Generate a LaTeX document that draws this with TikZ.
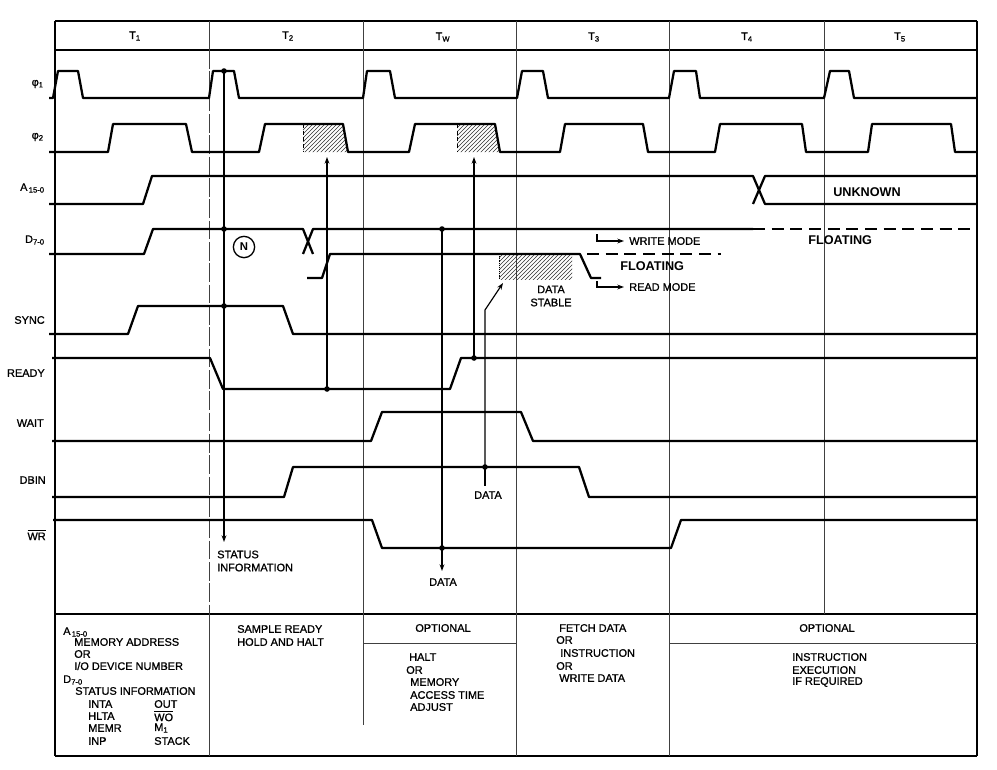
\documentclass[tikz,border=0pt]{standalone}
\usepackage{fontspec}
\setmainfont{Liberation Sans}
\newfontfamily\semifont{Liberation Sans}[FakeBold=1.0]
\usetikzlibrary{patterns,arrows.meta}
\begin{document}
\begin{tikzpicture}[x=0.75pt,y=-0.75pt,
  wave/.style={line width=1.7pt,line join=round},
  gridline/.style={line width=0.5pt,black!75},
  framel/.style={line width=1.1pt},
  conn/.style={line width=0.9pt},
  arr/.style={conn,-{Stealth[length=5pt,width=3.6pt]}},
  txt/.style={font=\semifont\fontsize{8.2}{9.8}\selectfont,inner sep=0pt},
  btxt/.style={font=\fontsize{9.5}{11}\selectfont\bfseries,inner sep=0pt},
  hatch/.style={pattern=north east lines,pattern color=black!80},
  dotp/.style={circle,fill,inner sep=0pt,minimum size=4.2pt}
]
\useasboundingbox (0,0) rectangle (997,769);

% ---------- frame and grid ----------
\draw[framel] (55,21) -- (977,21);
\draw[framel] (55,50) -- (977,50);
\draw[framel] (55,614) -- (977,614);
\draw[framel] (55,756) -- (977,756);
\draw[framel] (55,21) -- (55,756);
\draw[framel] (977,21) -- (977,756);
\draw[gridline] (209,21) -- (209,50);
\draw[gridline,dash pattern=on 14pt off 2pt] (209,50) -- (209,614);
\foreach \x in {363,516,669,824} \draw[gridline] (\x,21) -- (\x,614);
\draw[gridline] (209,614) -- (209,756);
\draw[gridline] (363,614) -- (363,725);
\draw[gridline] (516,614) -- (516,756);
\draw[gridline] (669,614) -- (669,756);
\draw[gridline] (363,643) -- (516,643);
\draw[gridline] (669,643) -- (977,643);

% ---------- header ----------
\node[txt] (h1) at (135,36) {T\textsubscript{1}};
\node[txt] (h2) at (288,36) {T\textsubscript{2}};
\node[txt] (h3) at (443,37) {T\textsubscript{W}};
\node[txt] (h4) at (594,37) {T\textsubscript{3}};
\node[txt] (h5) at (747,37) {T\textsubscript{4}};
\node[txt] (h6) at (900,37) {T\textsubscript{5}};

% ---------- signal labels ----------
\node[txt,anchor=east] (lphi1) at (44,84) {φ\textsubscript{1}};
\node[txt,anchor=east] (lphi2) at (44,137) {φ\textsubscript{2}};
\node[txt,anchor=east] (la) at (45,188) {A\textsubscript{\,15-0}};
\node[txt,anchor=east] (ld) at (45,240) {D\textsubscript{7-0}};
\node[txt,anchor=east] (lsync) at (45,320) {SYNC};
\node[txt,anchor=east] (lready) at (45,373) {READY};
\node[txt,anchor=east] (lwait) at (44,423) {WAIT};
\node[txt,anchor=east] (ldbin) at (46,480) {DBIN};
\node[txt,anchor=east] (lwr) at (46,535) {$\overline{\mbox{WR}}$};

% ---------- hatched areas ----------
\fill[hatch] (303,124) -- (343,124) -- (348,152) -- (303,152) -- cycle;
\draw[line width=0.4pt,densely dashed] (303,124) -- (303,152);
\fill[hatch] (457,124) -- (495,124) -- (500,152) -- (457,152) -- cycle;
\draw[line width=0.4pt,densely dashed] (457,124) -- (457,152);
\fill[hatch] (499,254) rectangle (572,279);
\draw[line width=0.4pt,densely dotted] (499,254) -- (499,279);

% ---------- waveforms ----------
\draw[wave] (49,98) -- (53,98) -- (58,71) -- (78,71) -- (83,98) -- (209,98) -- (213,71) -- (234,71) -- (239,98)
  -- (363,98) -- (367,71) -- (390,71) -- (395,98) -- (517,98) -- (522,71) -- (543,71) -- (548,98)
  -- (669,98) -- (674,71) -- (696,71) -- (700,98) -- (824,98) -- (830,71) -- (849,71) -- (854,98) -- (977,98);
\draw[wave] (49,152) -- (108,152) -- (113,124) -- (186,124) -- (192,152) -- (259,152) -- (265,124) -- (343,124) -- (348,152)
  -- (409,152) -- (415,124) -- (495,124) -- (500,152) -- (560,152) -- (565,124) -- (643,124) -- (648,152)
  -- (715,152) -- (720,124) -- (802,124) -- (806,152) -- (868,152) -- (872,124) -- (951,124) -- (955,152) -- (977,152);
% A15-0
\draw[wave] (49,204) -- (143,204) -- (152,176) -- (753,176) -- (765,204) -- (977,204);
\draw[wave] (753,204) -- (765,176) -- (977,176);
% D7-0
\draw[wave] (49,254) -- (144,254) -- (153,229) -- (303,229) -- (313,254);
\draw[wave] (303,254) -- (313,229) -- (753,229);
\draw[wave,dash pattern=on 9pt off 5pt] (753,229) -- (977,229);
\draw[wave] (307,278) -- (322,278) -- (330,254) -- (580,254) -- (591,278) -- (601,278);
\draw[wave,dash pattern=on 9pt off 5pt] (587,254) -- (721,254);
% SYNC
\draw[wave] (49,334) -- (128,334) -- (138,306) -- (283,306) -- (293,334) -- (977,334);
% READY
\draw[wave] (52,358) -- (210,358) -- (223,389) -- (450,389) -- (461,358) -- (977,358);
% WAIT
\draw[wave] (52,441) -- (371,441) -- (382,412) -- (521,412) -- (533,441) -- (977,441);
% DBIN
\draw[wave] (52,497) -- (284,497) -- (293,467) -- (579,467) -- (589,497) -- (977,497);
% WR
\draw[wave] (53,520) -- (372,520) -- (382,548) -- (671,548) -- (681,520) -- (977,520);

% ---------- junction dots ----------
\node[dotp] (p1) at (224,71) {};
\node[dotp] (p2) at (224,229) {};
\node[dotp] (p3) at (224,306) {};
\node[dotp] (p4) at (327,389) {};
\node[dotp] (p5) at (442,229) {};
\node[dotp] (p6) at (474,358) {};
\node[dotp] (p7) at (442,548) {};
\node[dotp] (p8) at (485,467) {};

\coordinate (e1) at (224,542);
\coordinate (e2) at (327,157);
\coordinate (e3) at (474,157);
\coordinate (e4) at (442,571);
\coordinate (k8) at (485,310);
\coordinate (e8) at (503,283);
\coordinate (t8) at (485,486);

\draw[arr] (p1.center) -- (e1);
\draw[arr] (p4.center) -- (e2);
\draw[arr] (p6.center) -- (e3);
\draw[arr] (p5.center) -- (e4);
\draw[arr] (p8.center) -- (k8) -- (e8);
\draw[conn] (p8.center) -- (t8);

% ---------- mode arrows ----------
\coordinate (w0) at (597,234);
\coordinate (w1) at (597,241);
\coordinate (w2) at (624,241);
\coordinate (r0) at (597,281);
\coordinate (r1) at (597,287);
\coordinate (r2) at (624,287);
\draw[arr] (w0) -- (w1) -- (w2);
\draw[arr] (r0) -- (r1) -- (r2);

% ---------- waveform annotations ----------
\node[draw,circle,line width=1pt,minimum size=16pt,inner sep=0pt,font=\fontsize{8.5}{10}\selectfont\bfseries] (nn) at (244,247) {N};
\node[txt,anchor=west] (wm) at (629,241) {WRITE MODE};
\node[txt,anchor=west] (rm) at (629,287) {READ MODE};
\node[btxt,anchor=west] (fl1) at (620,266) {FLOATING};
\node[btxt,anchor=west] (fl2) at (808,240) {FLOATING};
\node[btxt,anchor=west] (unk) at (833,192) {UNKNOWN};
\node[txt,align=center] (ds) at (551,296) {DATA\\STABLE};
\node[txt] (dat1) at (488,495) {DATA};
\node[txt] (dat2) at (443,582) {DATA};
\node[txt,anchor=west,align=left] (stat) at (217,561) {STATUS\\INFORMATION};

% ---------- table text ----------
\node[txt,anchor=west] (c1a) at (63,632) {A\textsubscript{\,15-0}};
\node[txt,anchor=west] (c1b) at (74,642) {MEMORY ADDRESS};
\node[txt,anchor=west] (c1c) at (74,654) {OR};
\node[txt,anchor=west] (c1d) at (74,666) {I/O DEVICE NUMBER};
\node[txt,anchor=west] (c1e) at (63,680) {D\textsubscript{7-0}};
\node[txt,anchor=west] (c1f) at (75,691) {STATUS INFORMATION};
\node[txt,anchor=west] (c1g) at (88,704) {INTA};
\node[txt,anchor=west] (c1h) at (154,704) {OUT};
\node[txt,anchor=west] (c1i) at (88,716) {HLTA};
\node[txt,anchor=west] (c1j) at (154,716) {$\overline{\mbox{WO}}$};
\node[txt,anchor=west] (c1k) at (88,728) {MEMR};
\node[txt,anchor=west] (c1l) at (154,728) {M\textsubscript{1}};
\node[txt,anchor=west] (c1m) at (88,741) {INP};
\node[txt,anchor=west] (c1n) at (154,741) {STACK};

\node[txt,anchor=west] (c2a) at (237,629) {SAMPLE READY};
\node[txt,anchor=west] (c2b) at (237,642) {HOLD AND HALT};

\node[txt] (c3a) at (443,628) {OPTIONAL};
\node[txt,anchor=west] (c3b) at (409,657) {HALT};
\node[txt,anchor=west] (c3c) at (406,670) {OR};
\node[txt,anchor=west] (c3d) at (410,682) {MEMORY};
\node[txt,anchor=west] (c3e) at (410,695) {ACCESS TIME};
\node[txt,anchor=west] (c3f) at (410,707) {ADJUST};

\node[txt,anchor=west] (c4a) at (559,628) {FETCH DATA};
\node[txt,anchor=west] (c4b) at (556,640) {OR};
\node[txt,anchor=west] (c4c) at (560,653) {INSTRUCTION};
\node[txt,anchor=west] (c4d) at (556,666) {OR};
\node[txt,anchor=west] (c4e) at (559,678) {WRITE DATA};

\node[txt] (c5a) at (827,628) {OPTIONAL};
\node[txt,anchor=west] (c5b) at (792,657) {INSTRUCTION};
\node[txt,anchor=west] (c5c) at (792,670) {EXECUTION};
\node[txt,anchor=west] (c5d) at (792,682) {IF REQUIRED};
\end{tikzpicture}
\end{document}
